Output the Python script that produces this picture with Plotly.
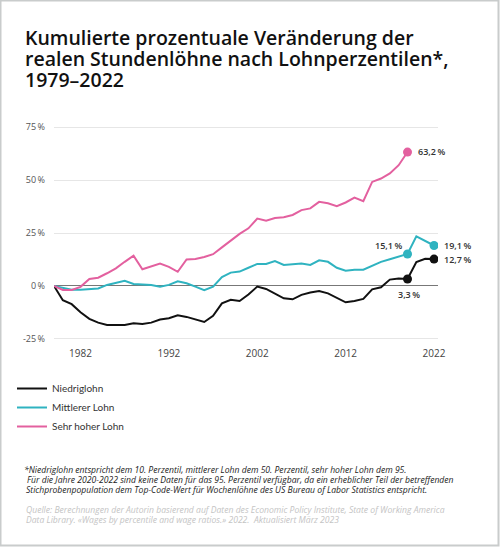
import plotly.graph_objects as go

years = list(range(1979, 2023))

niedrig = [0, -6.7, -8.6, -12.4, -15.5, -17.3, -18.4, -18.3, -18.4, -17.6,
           -18.0, -17.3, -15.8, -15.2, -13.8, -14.6, -15.8, -17.0, -14.1, -8.2,
           -6.5, -7.1, -4.0, -0.3, -1.4, -3.5, -5.8, -6.3, -4.2, -3.1,
           -2.4, -3.5, -5.8, -7.7, -7.1, -6.1, -1.6, -0.6, 3.0, 3.5,
           3.3, 11.3, 12.8, 12.7]

mittel = [0, -0.9, -1.8, -1.8, -1.6, -1.2, 0.5, 1.3, 2.4, 0.9,
          0.6, 0.5, -0.3, 0.5, 2.2, 1.3, -0.3, -2.0, -0.3, 4.2,
          6.3, 6.8, 8.6, 10.4, 10.4, 11.8, 9.9, 10.4, 10.6, 9.9,
          12.1, 11.4, 8.6, 7.2, 7.7, 7.7, 9.7, 11.4, 12.6, 14.0,
          15.1, 23.4, 21.2, 19.1]

hoch = [0, -1.9, -1.9, -0.4, 3.3, 3.9, 6.0, 8.3, 11.4, 14.3,
        7.9, 9.1, 10.6, 9.0, 6.7, 12.5, 12.7, 13.7, 15.0, 18.2,
        21.6, 24.6, 27.2, 31.8, 30.8, 32.1, 32.4, 33.5, 35.8, 36.6,
        39.7, 39.0, 37.7, 39.4, 41.7, 40.0, 49.1, 50.7, 53.1, 57.0,
        63.2, None, None, None]

series_names = ["Niedriglohn", "Mittlerer Lohn", "Sehr hoher Lohn"]
colors = ["#111111", "#2fb3c0", "#e3609f"]

y_ticks = [-25, 0, 25, 50, 75]
y_ticktext = ["-25\u2009%", "0\u2009%", "25\u2009%", "50\u2009%", "75\u2009%"]
x_ticks = [1982, 1992, 2002, 2012, 2022]

# labelled points: (series index, year, value, text, xshift, yshift, anchor)
labels = [
    (2, 2019, 63.2, "63,2\u2009%", 8, 1, "left"),
    (1, 2019, 15.1, "15,1\u2009%", -4, 8, "right"),
    (0, 2019, 3.3, "3,3\u2009%", 1, -16, "center"),
    (1, 2022, 19.1, "19,1\u2009%", 8, 0, "left"),
    (0, 2022, 12.7, "12,7\u2009%", 8, 0, "left"),
]

fig = go.Figure()
for name, vals, col in zip(series_names, [niedrig, mittel, hoch], colors):
    fig.add_trace(go.Scatter(x=years, y=vals, mode="lines", name=name,
                             line=dict(color=col, width=2), legendgroup=name))

for si, yr, v, txt, xs, ys, anc in labels:
    fig.add_trace(go.Scatter(x=[yr], y=[v], mode="markers", showlegend=False,
                             marker=dict(color=colors[si], size=9),
                             hoverinfo="skip"))
    fig.add_annotation(x=yr, y=v, text=txt, showarrow=False,
                       xanchor=anc, yanchor="middle", xshift=xs, yshift=ys,
                       font=dict(family="Open Sans", size=9, color="#333333", weight=600))

L, R, T, B = 54, 62, 126, 207
PW = 500 - L - R
PH = 547 - T - B


def px_x(px):
    return (px - L) / PW


def px_y(py):
    return (547 - B - py) / PH


title_lines = ["Kumulierte prozentuale Veränderung der",
               "realen Stundenlöhne nach Lohnperzentilen*,",
               "1979–2022"]
for i, line in enumerate(title_lines):
    fig.add_annotation(xref="paper", yref="paper", x=px_x(23), y=px_y(38 + i * 20.5),
                       text=line, showarrow=False, xanchor="left", yanchor="middle",
                       font=dict(family="Open Sans", size=19.5, color="#111111", weight=600))

foot_lines = [
    (22, 470, "*Niedriglohn entspricht dem 10. Perzentil, mittlerer Lohn dem 50. Perzentil, sehr hoher Lohn dem 95."),
    (25, 480, "Für die Jahre 2020-2022 sind keine Daten für das 95. Perzentil verfügbar, da ein erheblicher Teil der betreffenden"),
    (24, 489.5, "Stichprobenpopulation dem Top-Code-Wert für Wochenlöhne des US Bureau of Labor Statistics entspricht."),
]
for xp, yp, txt in foot_lines:
    fig.add_annotation(xref="paper", yref="paper", x=px_x(xp), y=px_y(yp), text="<i>" + txt + "</i>",
                       showarrow=False, xanchor="left", yanchor="middle",
                       font=dict(family="Open Sans", size=8.6, color="#222222"))

src_lines = [
    (24, 510, "Quelle: Berechnungen der Autorin basierend auf Daten des Economic Policy Institute, State of Working America"),
    (24, 520, "Data Library. «Wages by percentile and wage ratios.» 2022.  Aktualisiert März 2023"),
]
for xp, yp, txt in src_lines:
    fig.add_annotation(xref="paper", yref="paper", x=px_x(xp), y=px_y(yp), text="<i>" + txt + "</i>",
                       showarrow=False, xanchor="left", yanchor="middle",
                       font=dict(family="Open Sans", size=8.6, color="#c4c4c4"))

# outer frame
fig.add_shape(type="rect", xref="paper", yref="paper",
              x0=px_x(0.5), x1=px_x(498.5), y0=px_y(545.5), y1=px_y(0.5),
              line=dict(color="#c9cccc", width=2), layer="above")

fig.update_layout(
    width=500, height=547,
    margin=dict(l=L, r=R, t=T, b=B),
    paper_bgcolor="white", plot_bgcolor="white",
    showlegend=True,
    legend=dict(x=px_x(12), y=px_y(374), xanchor="left", yanchor="top",
                font=dict(family="Lato", size=10, color="#333333"),
                itemwidth=30, tracegroupgap=0, bgcolor="rgba(0,0,0,0)"),
    xaxis=dict(range=[1979, 2022.45], tickvals=x_ticks, showgrid=False,
               zeroline=False, showline=False, ticks="",
               tickfont=dict(family="Open Sans", size=10, color="#444444"),
               ticklabelstandoff=6),
    yaxis=dict(range=[-25.5, 75.5], tickvals=y_ticks, ticktext=y_ticktext,
               showgrid=True, gridcolor="#e6e6e6", gridwidth=1,
               zeroline=True, zerolinecolor="#777777", zerolinewidth=1,
               showline=False, ticks="",
               tickfont=dict(family="Open Sans", size=9, color="#555555"),
               ticklabelstandoff=8),
    hovermode=False,
)

fig.write_html("out.html")
